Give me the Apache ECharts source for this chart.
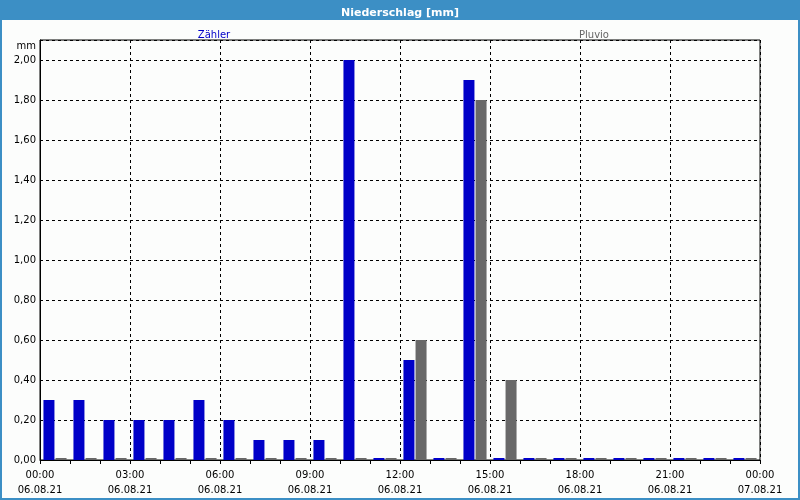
<!DOCTYPE html>
<html><head><meta charset="utf-8">
<script src="https://cdn.jsdelivr.net/npm/echarts@6/dist/echarts.min.js"></script>
<style>html,body{margin:0;padding:0;background:#fcfdfc}#c{width:800px;height:500px}</style>
</head><body><div id="c"></div>
<script>
const hourSlots = ['00','01','02','03','04','05','06','07','08','09','10','11','12','13','14','15','16','17','18','19','20','21','22','23'];
const tickTimes = ['00:00','01:00','02:00','03:00','04:00','05:00','06:00','07:00','08:00','09:00','10:00','11:00','12:00','13:00','14:00','15:00','16:00','17:00','18:00','19:00','20:00','21:00','22:00','23:00','00:00'];
const tickDates = ['06.08.21','06.08.21','06.08.21','06.08.21','06.08.21','06.08.21','06.08.21','06.08.21','06.08.21','06.08.21','06.08.21','06.08.21','06.08.21','06.08.21','06.08.21','06.08.21','06.08.21','06.08.21','06.08.21','06.08.21','06.08.21','06.08.21','06.08.21','06.08.21','07.08.21'];
const zaehler = [0.3,0.3,0.2,0.2,0.2,0.3,0.2,0.1,0.1,0.1,2.0,0,0.5,0,1.9,0,0,0,0,0,0,0,0,0];
const pluvio  = [0,0,0,0,0,0,0,0,0,0,0,0,0.6,0,1.8,0.4,0,0,0,0,0,0,0,0];
const seriesNames = ['Zähler','Pluvio'];
const chartTitle = 'Niederschlag [mm]';
const yUnit = 'mm';

const FONT = 'DejaVu Sans';
const frameColor = '#3c8fc5';
const chart = echarts.init(document.getElementById('c'));
const tickLabels = tickTimes.map((t,i)=>t+'\n'+tickDates[i]);
chart.setOption({
  animation:false,
  backgroundColor:'#fcfdfc',
  textStyle:{fontFamily:FONT},
  graphic:[
    {type:'rect',shape:{x:0,y:0,width:800,height:20},style:{fill:frameColor},z:-1},
    {type:'rect',shape:{x:0,y:0,width:2,height:500},style:{fill:frameColor},z:10},
    {type:'rect',shape:{x:798,y:0,width:2,height:500},style:{fill:frameColor},z:10},
    {type:'rect',shape:{x:0,y:498,width:800,height:2},style:{fill:frameColor},z:10},
    {type:'text',x:36,y:41,style:{text:yUnit,align:'right',fontFamily:FONT,fontSize:10,fill:'#000'}}
  ],
  title:[
    {text:chartTitle,left:'center',top:3,textStyle:{color:'#fff',fontWeight:'bold',fontSize:11,fontFamily:FONT}},
    {text:seriesNames[0],left:209,top:25,textAlign:'center',textStyle:{color:'#0000c8',fontWeight:'normal',fontSize:10,fontFamily:FONT}},
    {text:seriesNames[1],left:589,top:25,textAlign:'center',textStyle:{color:'#666666',fontWeight:'normal',fontSize:10,fontFamily:FONT}}
  ],
  grid:{left:40,right:40,top:40,bottom:40,show:true,borderColor:'#000',borderWidth:1,backgroundColor:'transparent'},
  xAxis:[
    {type:'category',data:tickLabels,boundaryGap:false,
     axisLine:{lineStyle:{color:'#000'}},
     axisTick:{show:true,interval:0,length:4,lineStyle:{color:'#000'}},
     axisLabel:{interval:2,color:'#000',fontSize:10,fontFamily:FONT,lineHeight:15,margin:8},
     splitLine:{show:true,interval:2,lineStyle:{color:'#000',type:[3,3]}}},
    {type:'category',data:hourSlots,boundaryGap:true,show:false}
  ],
  yAxis:{type:'value',min:0,max:2.1,interval:0.2,
     axisLine:{show:true,lineStyle:{color:'#000'}},
     axisTick:{show:false},
     axisLabel:{showMaxLabel:false,color:'#000',fontSize:10,fontFamily:FONT,margin:4,
       formatter:v=>v.toFixed(2).replace('.',',')},
     splitLine:{show:true,lineStyle:{color:'#000',type:[3,3]}}},
  series:[
    {name:seriesNames[0],type:'bar',xAxisIndex:1,data:zaehler,barWidth:11,barGap:'10%',barMinHeight:2,
     itemStyle:{color:'#0000c8'}},
    {name:seriesNames[1],type:'bar',xAxisIndex:1,data:pluvio,barWidth:11,barGap:'10%',barMinHeight:2,
     itemStyle:{color:'#686868',decal:{symbol:'rect',symbolSize:0.15,color:'#3a3a6a',dashArrayX:[1,6],dashArrayY:[1,6],rotation:0}}}
  ]
});
</script></body></html>
